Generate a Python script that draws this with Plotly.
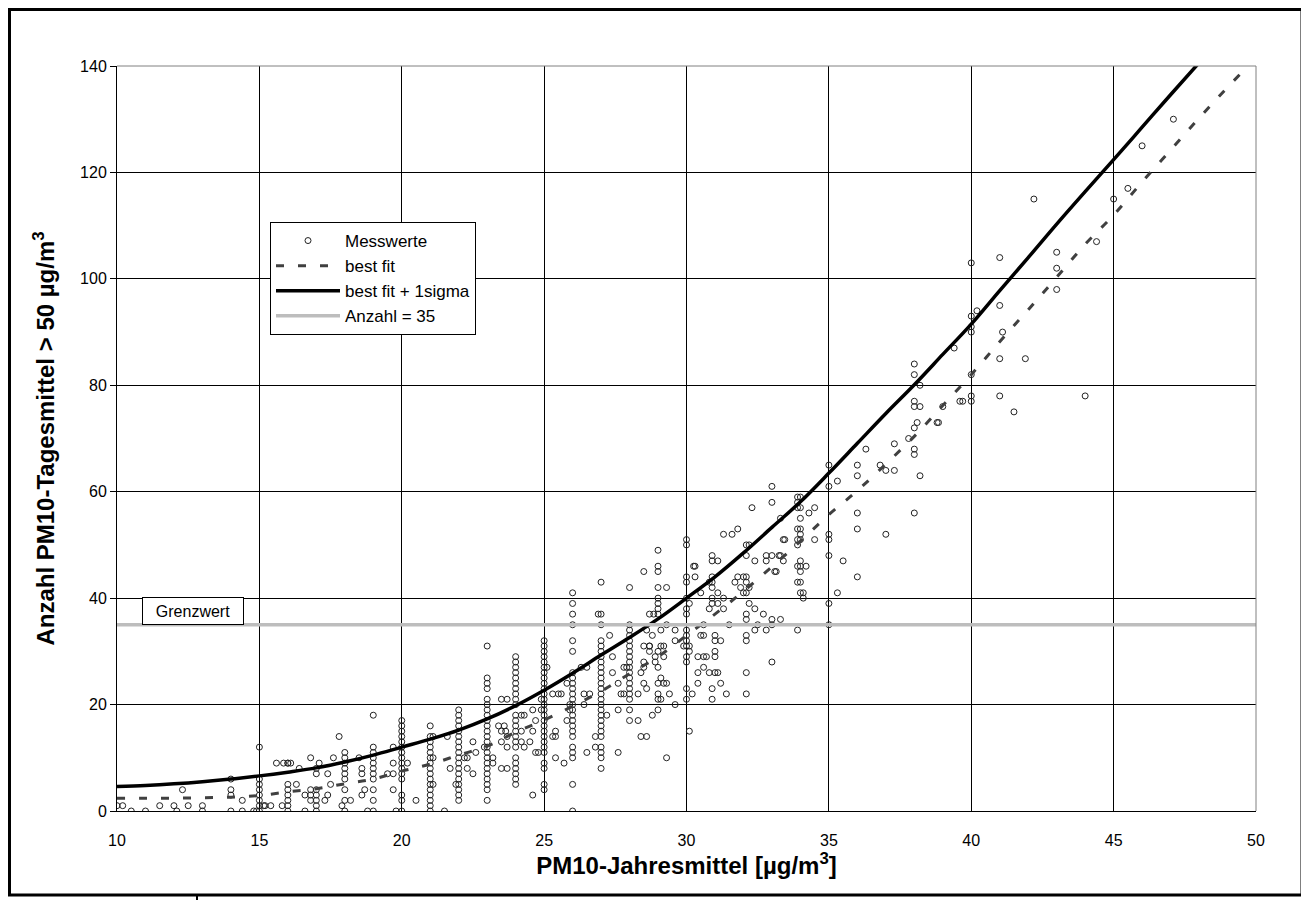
import plotly.graph_objects as go

# ---------------- data ----------------
# vertical stacks of measurements at integer annual means
stack_x = [15, 16, 17, 18, 19, 20, 21, 22, 23, 24, 25, 26, 27, 28]
stack_y = [
    [12, 6, 5, 4, 3, 2, 1, 0],
    [9, 5, 4, 3, 2, 1, 0],
    [8, 7, 4, 3, 2, 1, 0],
    [11, 10, 9, 8, 7, 6, 4, 2, 0],
    [18, 12, 11, 10, 9, 8, 7, 6, 4, 2, 0],
    [17, 16, 15, 14, 13, 12, 11, 10, 9, 8, 7, 6, 3, 2, 0],
    [16, 14, 13, 12, 11, 10, 9, 8, 7, 6, 5, 4, 3, 2, 1, 0],
    [19, 18, 17, 16, 15, 14, 13, 12, 11, 10, 9, 8, 7, 6, 5, 4, 3, 2],
    [31, 25, 24, 23, 21, 20, 19, 18, 17, 16, 15, 14, 13, 12, 11, 10, 9, 8, 7, 6, 5, 4, 2],
    [29, 28, 27, 26, 25, 24, 23, 22, 21, 20, 18, 17, 16, 15, 14, 13, 12, 10, 9, 8, 7, 6, 5],
    [32, 31, 30, 29, 28, 27, 26, 25, 24, 23, 22, 21, 20, 19, 18, 17, 16, 15, 14, 13, 12, 11, 9, 8, 5, 4],
    [41, 39, 37, 35, 32, 30, 26, 25, 24, 23, 22, 21, 20, 19, 18, 17, 16, 15, 14, 12, 11, 10, 5, 0],
    [43, 37, 35, 32, 31, 30, 29, 28, 27, 26, 25, 24, 23, 22, 21, 20, 19, 18, 17, 16, 15, 14, 12, 11, 10, 8],
    [42, 35, 34, 33, 32, 31, 30, 29, 28, 27, 26, 25, 24, 23, 22, 21, 19, 17],
]

# scattered measurements (x = annual mean, y = number of exceedance days)
loose_low = [
    (10, 1), (10.2, 1), (10.5, 0), (11, 0), (11.5, 1), (12, 1), (12.1, 0), (12.3, 4),
    (12.5, 1), (13, 1), (13, 0), (14, 6), (14, 4), (14, 3), (14, 0), (14.4, 2), (14.4, 0),
    (14.8, 0), (14.9, 0), (15.15, 1), (15.2, 1), (15.4, 1), (15.6, 9), (15.85, 9),
    (16, 9), (16.1, 9), (16.4, 8), (15.8, 1), (16.3, 5), (16.8, 10), (16.6, 3), (16.8, 3),
    (16.6, 0), (17.1, 9), (17.4, 7), (17.3, 2), (17.4, 3), (17.5, 5), (17.6, 10), (17.8, 14),
    (16.8, 4), (16.8, 2), (18.2, 2), (17.9, 1), (18.5, 10), (18.6, 8), (18.6, 7), (18.7, 4),
    (18.6, 3), (18.8, 0), (19.7, 12), (19.7, 9), (19.5, 7), (19.7, 7), (19.7, 4), (19.8, 0),
    (20.2, 9), (20.5, 2), (21.1, 14), (21.1, 10), (21.1, 5), (21.5, 0), (21.6, 14),
    (21.7, 8), (21.9, 5), (22.2, 10), (22.3, 10), (22.3, 8), (22.5, 13), (22.5, 7),
    (22.6, 11), (22.9, 12), (23.2, 10), (23.2, 9), (23.5, 21), (23.4, 16), (23.5, 15),
    (23.5, 13), (23.5, 8),
]
loose_mid = [
    (23.7, 21), (23.6, 16), (23.65, 15), (23.7, 14), (23.7, 12), (23.7, 8), (24.3, 18),
    (24.2, 18), (24.2, 15), (24.2, 13), (24.3, 12), (24.5, 13), (24.6, 3), (24.6, 19),
    (24.7, 17), (24.6, 15), (25.1, 27), (25.3, 22), (25.5, 22), (25.6, 22), (24.9, 21),
    (24.9, 19), (25.4, 15), (25.3, 14), (25.4, 14), (24.7, 11), (24.8, 11), (25.4, 10),
    (25.7, 9), (26.3, 27), (26.5, 27), (25.8, 24), (26.4, 22), (26.6, 22), (25.9, 19),
    (25.9, 20), (25.8, 17), (26.4, 20), (26.5, 11), (26.8, 12), (26.9, 37), (27.3, 33),
    (27.4, 29), (27.4, 26), (27.6, 24), (27.7, 22), (27.8, 22), (27.6, 19), (27.6, 11),
    (26.8, 14), (27.2, 18), (28.5, 45), (28.5, 31), (28.7, 31), (28.5, 28), (28.5, 27),
    (28.5, 24), (28.6, 23), (28.4, 26), (28.3, 22), (28.3, 17), (28.4, 14), (28.6, 14),
    (27.8, 27), (27.9, 27),
]
loose_30 = [
    (29, 49), (29, 46), (29, 45), (29, 42), (29.3, 42), (29, 40), (29, 39), (29, 38),
    (28.85, 37), (29, 37), (28.6, 34), (29.1, 34), (29.3, 35), (28.7, 37), (28.8, 33),
    (28.7, 31), (29.1, 31), (29.0, 30), (29.2, 31), (28.9, 29), (28.9, 28), (28.7, 30),
    (29, 27), (29.2, 29), (29.1, 25), (29.2, 24), (29.3, 24), (29, 24), (29, 22), (29, 21),
    (29.1, 21), (29.4, 22), (28.8, 18), (29, 19), (29.6, 20), (29.3, 10), (29.6, 34),
    (29.6, 32), (30, 51), (30, 50), (30, 44), (30, 43), (30.3, 44), (30, 40), (30.1, 39),
    (30, 38), (30, 37), (30, 34), (30, 33), (30, 32), (30, 31), (30.1, 30), (30, 29),
    (30, 28), (29.9, 31), (30.1, 31), (30.4, 26), (30.4, 24), (30.2, 22), (30, 23),
    (30, 21), (30.1, 15), (30.3, 46), (30.25, 46), (30.5, 41), (30.8, 43), (30.8, 38),
    (30.6, 35), (30.5, 33), (30.6, 33), (30.4, 29), (30.6, 29), (30.7, 29), (30.6, 27),
    (30.8, 26), (30.9, 48), (30.9, 47), (31.1, 47), (30.9, 44), (30.9, 43), (30.9, 42),
    (31.1, 41), (30.9, 40), (30.9, 39), (31.1, 39), (31.3, 40), (31.3, 38), (31, 33),
    (31, 32), (31.2, 32), (31, 30), (31, 29), (31, 26), (31.1, 26), (31.5, 35), (30.9, 23),
    (30.9, 21), (31.2, 24), (31.4, 22),
]
loose_33 = [
    (31.8, 53), (31.6, 52), (31.3, 52), (32.1, 50), (32.2, 50), (32.1, 48), (32.8, 48),
    (33, 48), (32.8, 47), (32.4, 47), (31.8, 44), (32, 44), (32.1, 44), (31.7, 43),
    (32.1, 43), (32.2, 42), (31.9, 42), (32.1, 41), (32.0, 41), (32.2, 39), (32.4, 38),
    (32.1, 36), (32.1, 37), (32.1, 33), (32.1, 32), (32.4, 34), (32.1, 26), (32.1, 22),
    (33, 61), (33, 58), (33.9, 59), (33.9, 58), (33.9, 57), (34, 55), (33.3, 55),
    (32.3, 57), (33.4, 51), (33.45, 51), (33.3, 48), (33.25, 48), (33.9, 53), (33.9, 51),
    (33.9, 50), (33.4, 47), (33.1, 45), (33.15, 45), (33.9, 46), (34, 46), (34, 45),
    (32.7, 37), (32.5, 35), (32.8, 34), (33, 36), (33, 35), (33.3, 36), (33.9, 34),
    (33, 28), (33.9, 43), (34, 41),
]
loose_high = [
    (40.2, 94), (40, 93), (40, 91), (40, 90), (39.4, 87), (38, 84), (38, 82), (38.2, 80),
    (38, 77), (38, 76), (38.2, 76), (39, 76), (39.6, 77), (40, 78), (40, 77), (38.8, 73),
    (38.85, 73), (38.1, 73), (38, 72), (37.8, 70), (38, 68), (38, 67), (37.3, 69),
    (36.3, 68), (37, 64), (37.3, 64), (38.2, 63), (36.8, 65), (36, 65), (36, 63),
    (35.3, 62), (35, 65), (35, 61), (34.5, 57), (34.3, 56), (34, 59), (34, 57), (36, 56),
    (38, 56), (36, 53), (37, 52), (35, 52), (35, 51), (34.5, 51), (34, 53), (34, 52),
    (34, 51), (35, 48), (35.5, 47), (34.2, 46), (34, 47), (34, 43), (36, 44), (35.3, 41),
    (34.1, 41), (34.1, 40), (35, 35), (35, 39),
    (47.1, 130), (46, 125), (45.5, 117), (45, 115), (42.2, 115), (44.4, 107), (43, 105),
    (43, 102), (43, 98), (41, 104), (40, 103), (41, 95), (41.1, 90), (41, 85), (41.9, 85),
    (40, 82), (41, 78), (41.5, 75), (44, 78), (39.7, 77),
]

# fitted curves (at integer x)
fit_x = [10, 11, 12, 13, 14, 15, 16, 17, 18, 19, 20, 21, 22, 23, 24, 25, 26, 27, 28, 29,
         30, 31, 32, 33, 34, 35, 36, 37, 38, 39, 40, 41, 42, 43, 44, 45, 46, 47, 48, 49, 50]
best_fit = [2.4, 2.4, 2.4, 2.5, 2.6, 2.9, 3.6, 4.2, 5.1, 6.0, 7.5, 8.8, 10.5, 12.2, 14.8,
            17.1, 19.7, 22.5, 25.8, 29.0, 33.0, 37.0, 41.3, 45.9, 50.7, 55.7, 60.2, 65.2,
            70.4, 76.2, 82.0, 88.2, 94.2, 100.3, 106.5, 112.0, 118.2, 124.2, 130.2, 136.0, 141.5]
sigma_x = fit_x[:39]
best_fit_sigma = [4.6, 4.8, 5.1, 5.5, 6.0, 6.6, 7.3, 8.1, 9.2, 10.5, 12.0, 13.5, 15.2, 17.3,
                  19.8, 22.7, 25.9, 29.3, 32.6, 36.1, 40.0, 44.0, 48.5, 53.3, 58.1, 63.5,
                  69.1, 74.7, 80.1, 85.8, 91.5, 97.8, 104.0, 110.3, 116.4, 122.4, 128.5,
                  134.6, 140.6]

limit_value = 35
limit_x = [10, 50]

# ---------------- assemble ----------------
meas_x, meas_y = [], []
for sx, col in zip(stack_x, stack_y):
    meas_x += [sx] * len(col)
    meas_y += col
for seg in (loose_low, loose_mid, loose_30, loose_33, loose_high):
    meas_x += [p[0] for p in seg]
    meas_y += [p[1] for p in seg]

FONT = "Arial, Liberation Sans, sans-serif"

fig = go.Figure()
fig.add_trace(go.Scatter(
    x=meas_x, y=meas_y, mode="markers", name="Messwerte",
    marker=dict(symbol="circle-open", size=6, color="#222222", line=dict(width=1, color="#222222")),
))
fig.add_trace(go.Scatter(
    x=fit_x, y=best_fit, mode="lines", name="best fit", line_shape="spline",
    line=dict(color="#404040", width=3, dash="8px,14px"),
))
fig.add_trace(go.Scatter(
    x=sigma_x, y=best_fit_sigma, mode="lines", name="best fit + 1sigma", line_shape="spline",
    line=dict(color="#000000", width=3.5),
))
fig.add_trace(go.Scatter(
    x=limit_x, y=[limit_value] * len(limit_x), mode="lines", name="Anzahl = 35",
    line=dict(color="#bdbdbd", width=3.5),
))

# page body has an 8px margin -> figure is laid out in page coords minus 8
OFF = 8
W, H = 1301, 892
L, R, T, B = 109, 53, 58, 89
pw, ph = W - L - R, H - T - B


def px2paper_x(px):
    return (px - OFF - L) / pw


def px2paper_y(py):
    return (H - B - (py - OFF)) / ph


fig.update_layout(
    width=W, height=H,
    margin=dict(l=L, r=R, t=T, b=B),
    paper_bgcolor="white", plot_bgcolor="white",
    font=dict(family=FONT, color="black", size=16),
    showlegend=True,
    legend=dict(
        x=px2paper_x(270), y=px2paper_y(222), xanchor="left", yanchor="top",
        bgcolor="white", bordercolor="black", borderwidth=1,
        font=dict(family=FONT, size=17, color="black"),
        tracegroupgap=0, itemwidth=64,
    ),
    xaxis=dict(
        range=[10, 50], tick0=10, dtick=5, showgrid=True, gridcolor="#000000", gridwidth=1,
        showline=True, linecolor="black", linewidth=1, ticks="", zeroline=False,
        tickfont=dict(size=16, family=FONT), ticklabelstandoff=15,
        title=dict(text="<b>PM10-Jahresmittel [µg/m<sup>3</sup>]</b>",
                   font=dict(size=24, family=FONT), standoff=7),
    ),
    yaxis=dict(
        range=[0, 140], tick0=0, dtick=20, showgrid=True, gridcolor="#000000", gridwidth=1,
        showline=True, linecolor="black", linewidth=1, ticks="outside", ticklen=6,
        tickcolor="black", zeroline=False,
        tickfont=dict(size=16, family=FONT),
        title=dict(text="<b>Anzahl PM10-Tagesmittel > 50 µg/m<sup>3</sup></b>",
                   font=dict(size=24, family=FONT), standoff=18),
    ),
    annotations=[dict(
        x=12.67, y=37.6, xref="x", yref="y", text="Grenzwert", showarrow=False,
        font=dict(size=16, family=FONT, color="black"),
        bgcolor="white", bordercolor="black", borderwidth=1, width=98, height=24,
    )],
    shapes=[
        dict(type="line", xref="paper", yref="paper", x0=0, x1=1, y0=1, y1=1,
             line=dict(color="#808080", width=1), layer="above"),
        dict(type="line", xref="paper", yref="paper", x0=1, x1=1, y0=0, y1=1,
             line=dict(color="#808080", width=1), layer="above"),
        dict(type="rect", xref="paper", yref="paper",
             x0=px2paper_x(9.5), x1=px2paper_x(1302), y0=px2paper_y(895), y1=px2paper_y(9.5),
             line=dict(color="black", width=3), layer="above"),
        dict(type="line", xref="paper", yref="paper",
             x0=px2paper_x(197), x1=px2paper_x(197), y0=px2paper_y(895), y1=px2paper_y(900),
             line=dict(color="black", width=2), layer="above"),
    ],
)

fig.write_html("out.html")
